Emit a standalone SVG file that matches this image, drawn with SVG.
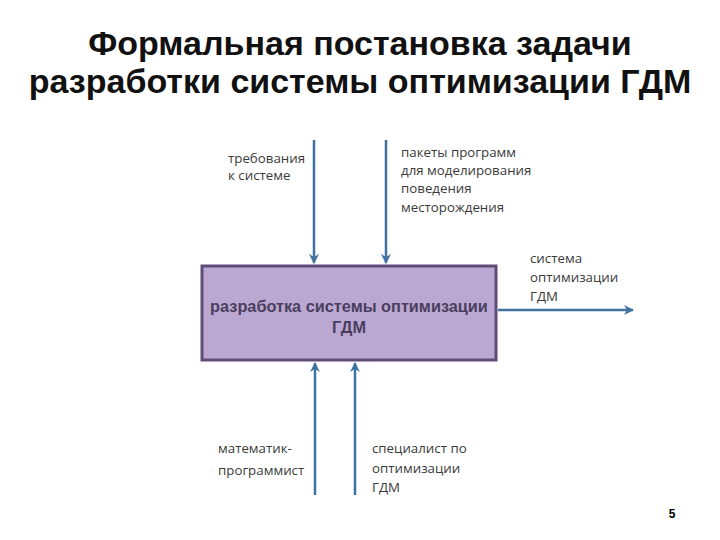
<svg xmlns="http://www.w3.org/2000/svg" width="720" height="540" viewBox="0 0 720 540">
<style>
.title{font-family:"Liberation Sans",Arial,sans-serif;font-weight:bold;font-size:34px;fill:#111;text-anchor:middle}
.lbl{font-family:"Open Sans","Liberation Sans",sans-serif;font-size:13.3px;fill:#3a3a3a}
.box{fill:#BBA8D2;stroke:#5E4B78;stroke-width:3}
.btxt{font-family:"Liberation Sans",Arial,sans-serif;font-weight:bold;font-size:16.3px;fill:#4A3E5E;text-anchor:middle}
.con{stroke:#3F729F;stroke-width:2.5;fill:none}
</style>
<defs>
<marker id="ah" viewBox="0 0 10 10" refX="9" refY="5" markerWidth="4" markerHeight="4" orient="auto" markerUnits="strokeWidth">
<path d="M0,0 L10,5 L0,10 L3,5 z" fill="#3F729F"/>
</marker>
</defs>
<rect width="720" height="540" fill="#fff"/>
<text class="title" x="360" y="55">Формальная постановка задачи</text>
<text class="title" x="360" y="93">разработки системы оптимизации ГДМ</text>
<g id="connectors">
<line class="con" x1="314" y1="140" x2="314" y2="263" marker-end="url(#ah)"/>
<line class="con" x1="386" y1="140" x2="386" y2="263" marker-end="url(#ah)"/>
<line class="con" x1="315" y1="495" x2="315" y2="363" marker-end="url(#ah)"/>
<line class="con" x1="355" y1="495" x2="355" y2="363" marker-end="url(#ah)"/>
<line class="con" x1="498" y1="310" x2="633" y2="310" marker-end="url(#ah)"/>
</g>
<g id="process">
<rect class="box" x="202" y="266" width="294" height="94"/>
<text class="btxt" x="349" y="312">разработка системы оптимизации</text>
<text class="btxt" x="349" y="333">ГДМ</text>
</g>
<g id="req">
<text class="lbl" x="228" y="163">требования</text>
<text class="lbl" x="228" y="180">к системе</text>
</g>
<g id="pkg">
<text class="lbl" x="401" y="157">пакеты программ</text>
<text class="lbl" x="401" y="175">для моделирования</text>
<text class="lbl" x="401" y="193">поведения</text>
<text class="lbl" x="401" y="212">месторождения</text>
</g>
<g id="out">
<text class="lbl" x="530" y="263">система</text>
<text class="lbl" x="530" y="282">оптимизации</text>
<text class="lbl" x="530" y="301">ГДМ</text>
</g>
<g id="math">
<text class="lbl" x="218" y="453">математик-</text>
<text class="lbl" x="218" y="475">программист</text>
</g>
<g id="spec">
<text class="lbl" x="372" y="453">специалист по</text>
<text class="lbl" x="372" y="473">оптимизации</text>
<text class="lbl" x="372" y="492">ГДМ</text>
</g>
<text x="672" y="518" font-family="Liberation Sans,Arial,sans-serif" font-weight="bold" font-size="12" fill="#000" text-anchor="middle">5</text>
</svg>
